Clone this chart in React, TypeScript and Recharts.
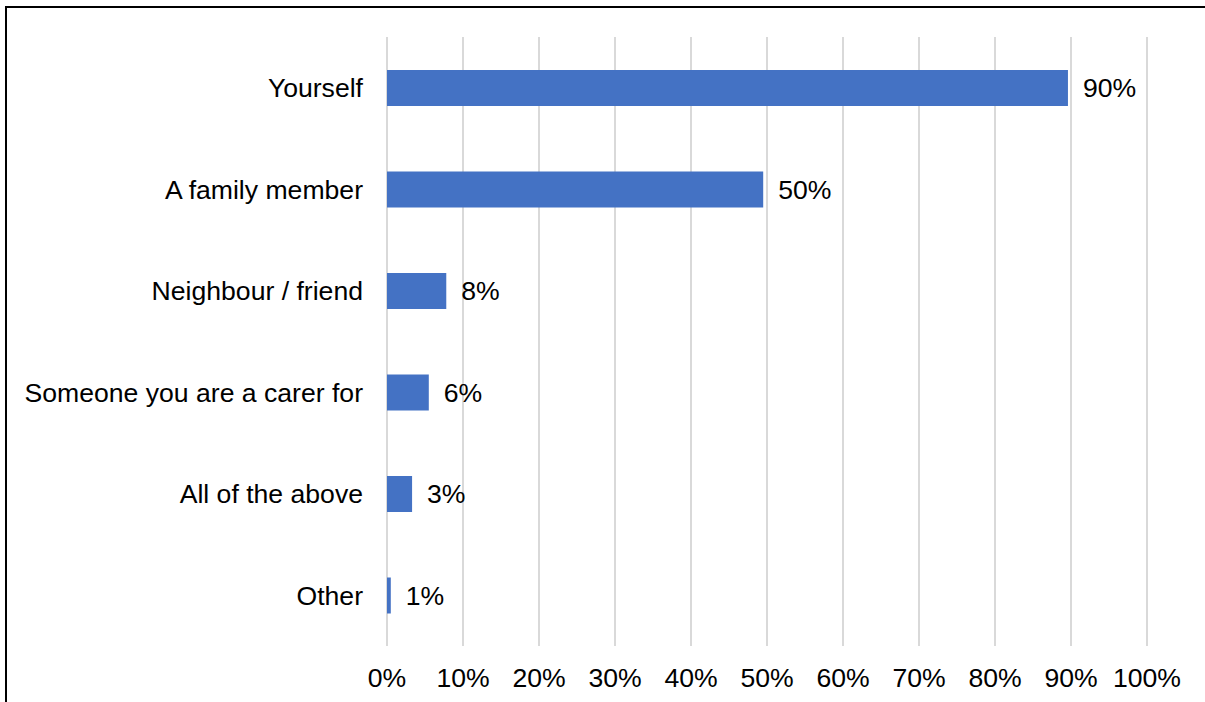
import { Bar, BarChart, CartesianGrid, LabelList, XAxis, YAxis } from 'recharts';

const categories = [
  'Yourself',
  'A family member',
  'Neighbour / friend',
  'Someone you are a carer for',
  'All of the above',
  'Other',
];
const shares = [89.6, 49.5, 7.8, 5.5, 3.3, 0.5];
const xTicks = [0, 10, 20, 30, 40, 50, 60, 70, 80, 90, 100];

const data = categories.map((name, i) => ({ name, value: shares[i] }));

const font = '"Liberation Sans", Arial, sans-serif';
const textSize = 26.6;

export default function App() {
  return (
    <div style={{ position: 'fixed', left: 0, top: 0, width: 1205, height: 702, overflow: 'hidden', background: '#fff' }}>
      {/* frame: only top and left edges are visible */}
      <div style={{ position: 'absolute', left: 5, top: 6, width: 1200, height: 2, background: '#000' }} />
      <div style={{ position: 'absolute', left: 5, top: 6, width: 2, height: 696, background: '#000' }} />
      <div style={{ position: 'absolute', left: 7, top: 8 }}>
        <BarChart
          width={1190}
          height={694}
          data={data}
          layout="vertical"
          margin={{ top: 29, right: 50, bottom: 0, left: 0 }}
          barSize={36}
        >
          <CartesianGrid horizontal={false} stroke="#d9d9d9" strokeWidth={2} />
          <XAxis
            type="number"
            domain={[0, 100]}
            ticks={xTicks}
            tickFormatter={(v: number) => `${v}%`}
            axisLine={false}
            tickLine={false}
            tickSize={0}
            tickMargin={22}
            height={56}
            interval={0}
            tick={{ fill: '#000', fontSize: textSize, fontFamily: font }}
          />
          <YAxis
            type="category"
            dataKey="name"
            width={380}
            axisLine={false}
            tickLine={false}
            tickSize={0}
            tickMargin={24}
            interval={0}
            tick={{ fill: '#000', fontSize: textSize, fontFamily: font }}
          />
          <Bar dataKey="value" fill="#4472C4" isAnimationActive={false}>
            <LabelList
              dataKey="value"
              position="right"
              offset={15}
              formatter={(v: number) => `${Math.round(v)}%`}
              style={{ fill: '#000', fontSize: textSize, fontFamily: font }}
            />
          </Bar>
        </BarChart>
      </div>
    </div>
  );
}
